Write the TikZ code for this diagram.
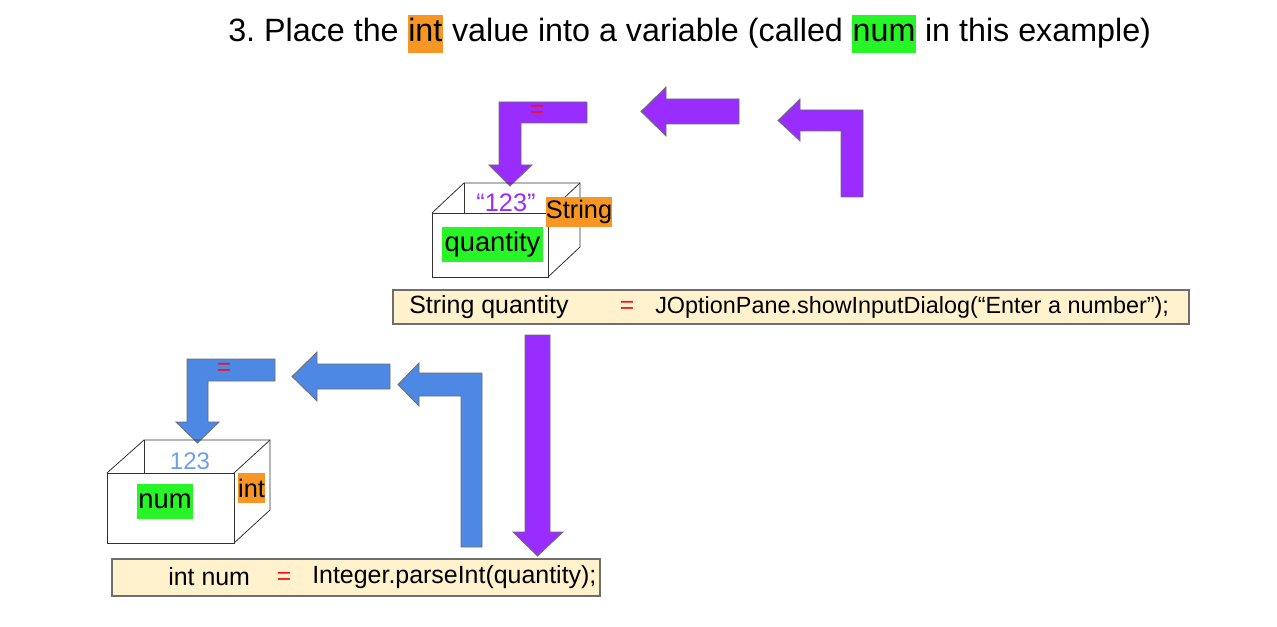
\documentclass[tikz,border=0pt]{standalone}
\usepackage{fontspec}
\setmainfont{Liberation Sans}
\usepackage{xcolor}
\usetikzlibrary{positioning}
\definecolor{arrowPurple}{RGB}{153, 45, 255}
\definecolor{arrowBlue}{RGB}{76, 136, 228}
\definecolor{edgeGray}{RGB}{110, 110, 110}
\definecolor{hlOrange}{RGB}{247, 150, 36}
\definecolor{hlGreen}{RGB}{40, 245, 40}
\definecolor{codeCream}{RGB}{255, 242, 204}
\definecolor{eqRed}{RGB}{240, 20, 30}
\definecolor{valueBlue}{RGB}{109, 158, 235}

\begin{document}
\begin{tikzpicture}[
  x=0.75pt, y=-0.75pt,
  purpleArrow/.style={fill=arrowPurple, draw=edgeGray, line width=0.6pt},
  blueArrow/.style={fill=arrowBlue, draw=edgeGray, line width=0.6pt},
  boxLine/.style={draw=black!80, line width=0.6pt},
  codeBox/.style={rectangle, draw=edgeGray, fill=codeCream, line width=0.9pt, inner sep=0pt},
  codeText/.style={inner sep=0pt, anchor=west, font=\fontsize{18.7}{22}\selectfont},
  eqSign/.style={inner sep=0pt, text=eqRed, font=\fontsize{18.5}{22}\selectfont},
  typeTag/.style={rectangle, fill=hlOrange, inner sep=0pt, font=\fontsize{19}{22}\selectfont},
  nameTag/.style={rectangle, fill=hlGreen, inner sep=0pt, font=\fontsize{20.5}{24}\selectfont}
]
  \useasboundingbox (0,0) rectangle (1277,627);

  % title
  \node[inner sep=0pt, anchor=west, font=\fontsize{24.2}{28}\selectfont] (title) at (228,34)
    {\setlength{\fboxsep}{0.5pt}3.\ Place the \colorbox{hlOrange}{\strut int} value into a variable (called \colorbox{hlGreen}{\strut num} in this example)};

  % first statement: String quantity
  \node[codeBox, minimum width=597pt, minimum height=25.5pt] (codeA) at (791,307) {};
  \node[codeText] (lhsA) at (409,307) {String quantity};
  \node[eqSign] (eqA) at (627,307) {=};
  \node[codeText, font=\fontsize{17.55}{22}\selectfont] (rhsA) at (655,307) {JOptionPane.showInputDialog(“Enter a number”);};

  % purple arrows (right to left)
  \draw[purpleArrow] (863,197) -- (863,110) -- (800,110) -- (800,99) -- (778,120.5)
    -- (800,141) -- (800,131) -- (841,131) -- (841,197) -- cycle;
  \draw[purpleArrow] (739,99) -- (666,99) -- (666,87) -- (641,111.5) -- (666,136)
    -- (666,124) -- (739,124) -- cycle;
  \draw[purpleArrow] (587,102) -- (499,102) -- (499,165) -- (489,165) -- (510,186)
    -- (532,165) -- (521,165) -- (521,123) -- (587,123) -- cycle;
  \node[eqSign] (eqP) at (537,111) {=};

  % box: quantity
  \draw[boxLine] (432,213) -- (464,183) -- (580,183) -- (580,247) -- (548,277);
  \draw[boxLine] (464,183) -- (464,213);
  \draw[boxLine] (548,213) -- (580,183);
  \draw[boxLine, fill=white] (432,213) rectangle (548,277);
  \node[inner sep=0pt, text=arrowPurple, font=\fontsize{19}{22}\selectfont] (valA) at (506,203) {“123”};
  \node[typeTag, minimum width=49.5pt, minimum height=22.5pt] (typeA) at (579,212) {String};
  \node[nameTag, minimum width=75.75pt, minimum height=26.25pt] (nameA) at (492.5,244.5) {quantity};

  % down arrow to second statement
  \draw[purpleArrow] (525,335) -- (550,335) -- (550,532) -- (563,532) -- (537.5,556)
    -- (513,532) -- (525,532) -- cycle;

  % second statement: int num
  \node[codeBox, minimum width=366pt, minimum height=27.75pt] (codeB) at (356,577.5) {};
  \node[codeText] (lhsB) at (168,577) {int num};
  \node[eqSign] (eqB) at (284,578) {=};
  \node[codeText] (rhsB) at (312,577) {Integer.parseInt(quantity);};

  % blue arrows (right to left)
  \draw[blueArrow] (482,547) -- (482,373) -- (419,373) -- (419,363) -- (398,384.5)
    -- (419,406) -- (419,396) -- (461,396) -- (461,547) -- cycle;
  \draw[blueArrow] (390,364) -- (317,364) -- (317,352) -- (292,376.5) -- (317,401)
    -- (317,389) -- (390,389) -- cycle;
  \draw[blueArrow] (275,359) -- (187,359) -- (187,422) -- (176,422) -- (197.5,443)
    -- (219,422) -- (208,422) -- (208,381) -- (275,381) -- cycle;
  \node[eqSign] (eqQ) at (224,369) {=};

  % box: num
  \draw[boxLine] (107,473) -- (144,440) -- (270,440) -- (270,510) -- (234,543);
  \draw[boxLine] (144,440) -- (144,473);
  \draw[boxLine] (234,473) -- (270,440);
  \draw[boxLine, fill=white] (107,473) rectangle (234,543);
  \node[inner sep=0pt, text=valueBlue, font=\fontsize{18}{22}\selectfont] (valB) at (190,461) {123};
  \node[typeTag, minimum width=20.25pt, minimum height=22.5pt] (typeB) at (251.5,488) {int};
  \node[nameTag, minimum width=42pt, minimum height=26.25pt] (nameB) at (165,501.5) {num};
\end{tikzpicture}
\end{document}
